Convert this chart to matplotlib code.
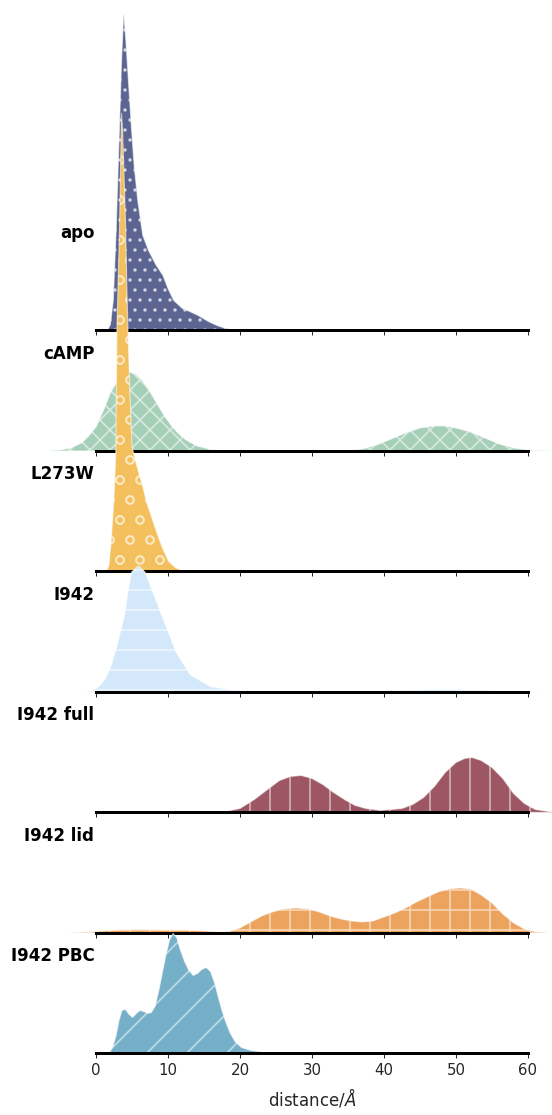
import matplotlib
matplotlib.use("Agg")
import matplotlib.pyplot as plt

# Ridge plot of distance distributions, one row per system.
# Densities (units 1/Å).

names = ["apo", "cAMP", "L273W", "I942", "I942 full", "I942 lid", "I942 PBC"]
colors = ["#5c6591", "#a6cfb8", "#f4c05e", "#d3e8fa", "#9d5663", "#eba35d", "#76b0c8"]
hatches = ["....", "xxxx", "oo", "--", "||", "++", "//"]

apo_x = [1.6, 2.0, 2.4, 2.8, 3.2, 3.55, 3.85, 4.15, 4.5, 4.9, 5.3, 5.8, 6.5, 7.3,
         8.3, 9.3, 10.0, 10.8, 12.0, 13.0, 14.2, 15.6, 16.8, 18.0, 19.5, 21.0]
apo_y = [0, 0.006, 0.03, 0.10, 0.19, 0.27, 0.318, 0.29, 0.25, 0.205, 0.165, 0.13,
         0.095, 0.08, 0.066, 0.055, 0.042, 0.030, 0.022, 0.019, 0.015, 0.009,
         0.005, 0.002, 0.0007, 0]

camp_x = [-7, -5, -3.5, -2, -1, 0, 1, 2, 3, 4, 4.6, 5.5, 6.5, 7.5, 8.5, 9.5, 10.5,
          11.5, 12.5, 14, 16, 18, 22, 30, 35, 37, 39, 41, 43, 45, 47, 48.5, 50, 52,
          54, 56, 58, 60, 62, 64]
camp_y = [0, 0.001, 0.003, 0.008, 0.015, 0.024, 0.040, 0.058, 0.071, 0.078, 0.079,
          0.077, 0.070, 0.059, 0.047, 0.035, 0.025, 0.017, 0.011, 0.005, 0.0015,
          0.0004, 0, 0, 0.0005, 0.002, 0.006, 0.012, 0.018, 0.023, 0.025, 0.025,
          0.023, 0.019, 0.013, 0.007, 0.003, 0.001, 0.0003, 0]

l273w_x = [1.4, 1.8, 2.1, 2.4, 2.6, 2.75, 2.9, 3.25, 3.45, 3.55, 3.7, 4.1, 4.3, 4.45,
           4.7, 5.0, 5.5, 6.0, 6.5, 7.0, 7.7, 8.4, 9.2, 10.1, 11.0, 12.2]
l273w_y = [0, 0.006, 0.03, 0.062, 0.09, 0.12, 0.24, 0.337, 0.42, 0.458, 0.44, 0.35,
           0.28, 0.24, 0.18, 0.125, 0.11, 0.097, 0.085, 0.07, 0.055, 0.040, 0.024,
           0.010, 0.004, 0]

i942_x = [-2, -0.5, 0.5, 1.3, 2.0, 2.8, 3.4, 4.0, 4.45, 4.95, 5.9, 6.8, 7.7, 8.4,
          9.65, 11.1, 13.1, 16, 20, 26, 35, 40, 44, 48, 52, 56, 60, 63]
i942_y = [0, 0.001, 0.006, 0.013, 0.024, 0.043, 0.06, 0.078, 0.10, 0.12, 0.126,
          0.12, 0.103, 0.09, 0.067, 0.040, 0.017, 0.005, 0.001, 0.0003, 0.0003,
          0.001, 0.002, 0.0025, 0.002, 0.001, 0.0003, 0]

full_x = [16, 18, 20, 22, 24, 25.5, 27, 28.5, 30, 31.5, 33, 34.5, 36, 37.5, 39.5, 41,
          42.5, 44, 45.5, 47, 48.5, 50, 51.2, 52.2, 53.5, 55, 56.5, 58, 59.5, 61, 63, 65]
full_y = [0, 0.001, 0.004, 0.013, 0.024, 0.032, 0.036, 0.037, 0.034, 0.028, 0.020,
          0.013, 0.007, 0.004, 0.002, 0.003, 0.004, 0.008, 0.015, 0.026, 0.040,
          0.050, 0.054, 0.055, 0.052, 0.045, 0.034, 0.019, 0.009, 0.003, 0.0008, 0]

lid_x = [-4, -2, 0, 3, 6, 9, 12, 15, 17, 18.5, 20, 21.5, 23, 24.5, 26, 27.7, 29.5,
         31, 32.5, 34, 35.5, 37, 38.5, 40, 41.5, 43, 44.5, 46, 47.5, 49, 50.5, 52,
         53.5, 55, 56.5, 58, 59.5, 61, 63]
lid_y = [0, 0.0005, 0.0015, 0.003, 0.0035, 0.003, 0.003, 0.002, 0.001, 0.0015,
         0.005, 0.011, 0.017, 0.021, 0.024, 0.025, 0.024, 0.021, 0.017, 0.014,
         0.012, 0.011, 0.012, 0.016, 0.020, 0.025, 0.031, 0.036, 0.041, 0.044,
         0.045, 0.044, 0.038, 0.030, 0.019, 0.010, 0.004, 0.001, 0]

pbc_x = [1.8, 2.3, 2.8, 3.2, 3.6, 4.1, 4.6, 5.1, 5.6, 6.1, 6.6, 7.2, 7.7, 8.2, 8.7,
         9.2, 9.7, 10.2, 10.7, 11.2, 11.7, 12.3, 12.9, 13.5, 14.1, 14.7, 15.3, 15.9,
         16.5, 17.0, 17.5, 18.0, 18.6, 19.3, 20.2, 21.5, 23, 26, 30]
pbc_y = [0, 0.006, 0.018, 0.033, 0.043, 0.044, 0.039, 0.036, 0.040, 0.043, 0.042,
         0.040, 0.041, 0.047, 0.062, 0.080, 0.098, 0.113, 0.120, 0.116, 0.104,
         0.092, 0.083, 0.078, 0.080, 0.084, 0.086, 0.082, 0.070, 0.056, 0.043,
         0.032, 0.021, 0.012, 0.006, 0.003, 0.0015, 0.0005, 0]

series = [(apo_x, apo_y), (camp_x, camp_y), (l273w_x, l273w_y), (i942_x, i942_y),
          (full_x, full_y), (lid_x, lid_y), (pbc_x, pbc_y)]
xticks = [0, 10, 20, 30, 40, 50, 60]

plt.rcParams["hatch.linewidth"] = 0.5

fig, axes = plt.subplots(len(names), 1, sharex=True, figsize=(2.3, 1115 / 240), dpi=240)
fig.subplots_adjust(left=0.1739, right=0.9565, top=0.8117, bottom=0.0552, hspace=0)

for ax, name, (xs, ys), col, hatch in zip(axes, names, series, colors, hatches):
    ax.patch.set_alpha(0)
    ax.fill_between(xs, 0, ys, facecolor=col, edgecolor=(1, 1, 1, 0.55),
                    linewidth=0.35, hatch=hatch, clip_on=False, zorder=1)
    ax.set_xlim(0, 60)
    ax.set_ylim(0, 0.1205)
    ax.set_yticks([])
    for side in ["left", "right", "top"]:
        ax.spines[side].set_visible(False)
    ax.spines["bottom"].set_linewidth(0.9)
    ax.spines["bottom"].set_color("black")
    ax.set_xticks(xticks)
    ax.tick_params(axis="x", length=1.5, width=0.3, color="0.15", labelsize=4.5,
                   labelcolor="0.15", pad=1.5)
    ax.text(-0.004, 0.805, name, transform=ax.transAxes, ha="right", va="center",
            fontsize=5, fontweight="bold", color="black")

axes[-1].set_xlabel(r"distance/$\AA$", fontsize=5, color="0.15", labelpad=2.5)

fig.savefig("out.png", dpi=240)
